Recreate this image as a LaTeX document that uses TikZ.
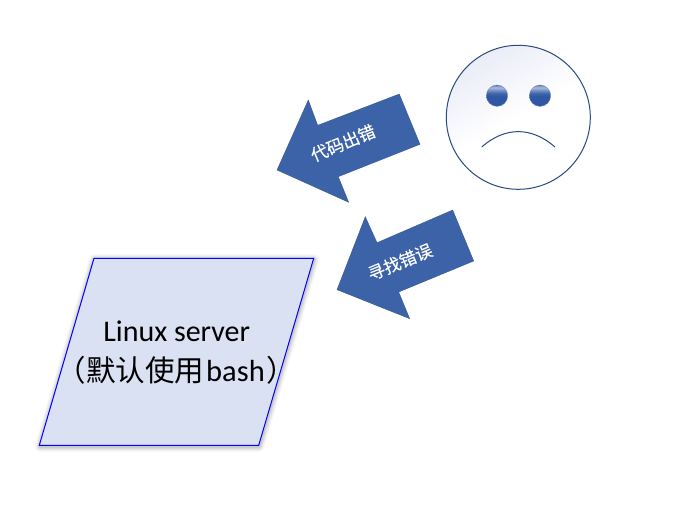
\documentclass[tikz,border=0pt]{standalone}
\usepackage{fontspec}
\setmainfont{Carlito}
\newfontfamily\cjk{Noto Sans CJK SC}
\newfontfamily\cjkheavy[FakeBold=0.3]{Noto Sans CJK SC}
\definecolor{arrowblue}{HTML}{3C62A8}
\definecolor{edgeblue}{HTML}{2F5185}
\definecolor{paraface}{HTML}{DAE1F2}
\definecolor{faceline}{HTML}{2B4A7E}
\definecolor{eyeblue}{HTML}{2F57A4}
\definecolor{facetint}{HTML}{EAECF7}
\pgfdeclareverticalshading{eyeball}{100bp}{
  color(0bp)=(eyeblue);
  color(50bp)=(eyeblue);
  color(56bp)=(eyeblue!90!white);
  color(63bp)=(eyeblue!65!white);
  color(69bp)=(eyeblue!40!white);
  color(72bp)=(eyeblue!55!white);
  color(75bp)=(eyeblue!85!white);
  color(100bp)=(eyeblue!85!white)}
\tikzset{
  bigarrow/.style={fill=arrowblue,draw=edgeblue,line width=0.3pt,line join=miter},
  arrowtext/.style={text=white,font=\cjkheavy\fontsize{17}{18}\selectfont,rotate=22.5,inner sep=0pt},
  servertext/.style={text=black,inner sep=0pt,anchor=center},
  eye/.style={shading=eyeball,draw=eyeblue!70!white,line width=0.3pt},
  faceedge/.style={draw=faceline,line width=1pt}
}
\begin{document}
\begin{tikzpicture}[x=1pt,y=-1pt]
\path[fill=white,use as bounding box] (0,0) rectangle (676,508);
% soft shadow of the parallelogram
\foreach \w/\o in {11/0.025,9/0.03,7/0.04,5/0.05,3/0.07}{
  \draw[black,opacity=\o,line width=\w pt,line join=round]
    (94.5,259.5) -- (314,259.5) -- (259,446.5) -- (40,446.5) -- cycle;
}
\path[fill=paraface,draw=blue,line width=1pt,line join=miter]
  (94,258.3) -- (313.7,258.3) -- (258.7,445.3) -- (39.3,445.3) -- cycle;
\node[servertext,font=\fontsize{30}{32}\selectfont] (linux) at (176.7,331.5) {Linux server};
\node[servertext,font=\fontsize{30.5}{32}\selectfont] (bash) at (176.5,370) {{\cjk\fontsize{29.5}{30}\selectfont （默认使用}\hspace{2pt}bash\hspace{2pt}{\cjk\fontsize{29.5}{30}\selectfont ）}};
% arrows
\path[bigarrow] (277,170) -- (308.3,100) -- (317.7,125.3) -- (399.3,94) -- (420,144.3) -- (338.3,176.7) -- (348.7,202.3) -- cycle;
\path[bigarrow] (337,289.7) -- (365.3,216.7) -- (377,242.7) -- (452.7,210) -- (473.7,261) -- (398.7,292) -- (409.7,318.7) -- cycle;
\node[arrowtext] (code) at (343,143) {代码出错};
\node[arrowtext] (find) at (400,262) {寻找错误};
% face
\begin{scope}
  \clip (518.3,117.3) circle (72);
  \shade[top color=facetint,bottom color=white,middle color=white,shading angle=30] (446,45) rectangle (591,190);
\end{scope}
\path[faceedge] (518.3,117.3) circle (72);
\path[eye] (497,95.7) circle (10.7);
\path[eye] (540,95.7) circle (10.7);
\draw[faceline,line width=1pt] (481.7,147) .. controls (505,126.5) and (531.5,126.5) .. (555,147);
\end{tikzpicture}
\end{document}
